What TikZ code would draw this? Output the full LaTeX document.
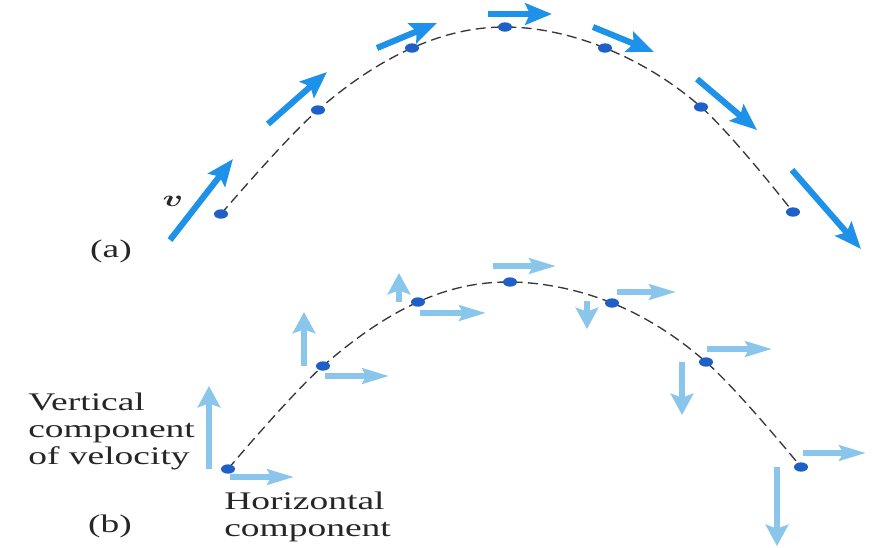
\documentclass[tikz,border=0pt]{standalone}
\usepackage{fontspec}
\setmainfont{Liberation Serif}
\usetikzlibrary{arrows.meta,shapes.geometric}
\definecolor{vblue}{RGB}{30,146,232}
\definecolor{cblue}{RGB}{138,198,236}
\definecolor{dotblue}{RGB}{30,95,200}
\definecolor{pathgray}{RGB}{55,55,55}
\newcommand\widetxt[1]{\scalebox{1.48}[1]{#1}}
\begin{document}
\begin{tikzpicture}[x=0.75pt,y=-0.75pt,
 vel/.style={line width=4.6pt, vblue, -{Stealth[length=20pt,width=16pt,inset=3.5pt]}},
 hcomp/.style={line width=3.9pt, cblue, -{Stealth[length=20pt,width=11.5pt,inset=3pt]}},
 vcomp/.style={line width=5pt, cblue, -{Stealth[length=16pt,width=17pt,inset=3pt]}},
 traj/.style={pathgray, line width=1pt, dash pattern=on 7.5pt off 4pt},
 dot/.style={ellipse, fill=dotblue, inner sep=0pt, minimum width=10.5pt, minimum height=7pt},
 lbl/.style={font=\fontsize{19}{20.3}\selectfont, inner sep=0pt, text=black!85}
]
\useasboundingbox (0,0) rectangle (881,547);

% ---------- (a) ----------
\coordinate (P1) at (221,214);
\coordinate (P2) at (318,110);
\coordinate (P3) at (412,48);
\coordinate (P4) at (505,27);
\coordinate (P5) at (605,48);
\coordinate (P6) at (701,107);
\coordinate (P7) at (793,212);
\draw[traj] plot[smooth, tension=0.6] coordinates {(P1) (P2) (P3) (P4) (P5) (P6) (P7)};
\foreach \i in {1,...,7} \node[dot] (dA\i) at (P\i) {};

\coordinate (a1s) at (170,240); \coordinate (a1e) at (233,159);
\coordinate (a2s) at (268,124); \coordinate (a2e) at (327,72);
\coordinate (a3s) at (377,48);  \coordinate (a3e) at (437,23);
\coordinate (a4s) at (488,14);  \coordinate (a4e) at (552,14);
\coordinate (a5s) at (593,27);  \coordinate (a5e) at (654,52);
\coordinate (a6s) at (697,79);  \coordinate (a6e) at (757,130);
\coordinate (a7s) at (792,170); \coordinate (a7e) at (861,249);
\foreach \i in {1,...,7} \draw[vel] (a\i s) -- (a\i e);

\node[lbl] (vlab) at (173,201) {\widetxt{\boldmath$v$}};
\node[lbl, anchor=base] (alab) at (111,257) {\widetxt{(a)}};

% ---------- (b) ----------
\coordinate (Q1) at (228,469);
\coordinate (Q2) at (323,366);
\coordinate (Q3) at (418,302);
\coordinate (Q4) at (510,282);
\coordinate (Q5) at (612,303);
\coordinate (Q6) at (706,362);
\coordinate (Q7) at (801,467);
\draw[traj] plot[smooth, tension=0.6] coordinates {(Q1) (Q2) (Q3) (Q4) (Q5) (Q6) (Q7)};

% horizontal components
\coordinate (h1s) at (230,477); \coordinate (h1e) at (294,477);
\coordinate (h2s) at (325,376); \coordinate (h2e) at (389,376);
\coordinate (h3s) at (420,313); \coordinate (h3e) at (486,313);
\coordinate (h4s) at (493,266); \coordinate (h4e) at (556,266);
\coordinate (h5s) at (617,292); \coordinate (h5e) at (676,292);
\coordinate (h6s) at (707,349); \coordinate (h6e) at (772,349);
\coordinate (h7s) at (803,453); \coordinate (h7e) at (866,453);
\foreach \i in {1,...,7} \draw[hcomp] (h\i s) -- (h\i e);

% vertical components
\coordinate (v1s) at (209,469); \coordinate (v1e) at (209,386);
\coordinate (v2s) at (304,366); \coordinate (v2e) at (304,312);
\coordinate (v3s) at (399,302); \coordinate (v3e) at (399,273);
\coordinate (v5s) at (587,301); \coordinate (v5e) at (587,329);
\coordinate (v6s) at (682,362); \coordinate (v6e) at (682,415);
\coordinate (v7s) at (777,467); \coordinate (v7e) at (777,546);
\foreach \i in {1,2,3,5,6,7} \draw[vcomp] (v\i s) -- (v\i e);

\foreach \i in {1,...,7} \node[dot] (dB\i) at (Q\i) {};

\node[lbl, anchor=north west, align=left] (vertlab) at (28,393)
  {\widetxt{Vertical}\\\widetxt{component}\\\widetxt{of velocity}};
\node[lbl, anchor=north west, align=left] (horlab) at (224,492)
  {\widetxt{Horizontal}\\\widetxt{component}};
\node[lbl, anchor=base] (blab) at (110,532) {\widetxt{(b)}};
\end{tikzpicture}
\end{document}
